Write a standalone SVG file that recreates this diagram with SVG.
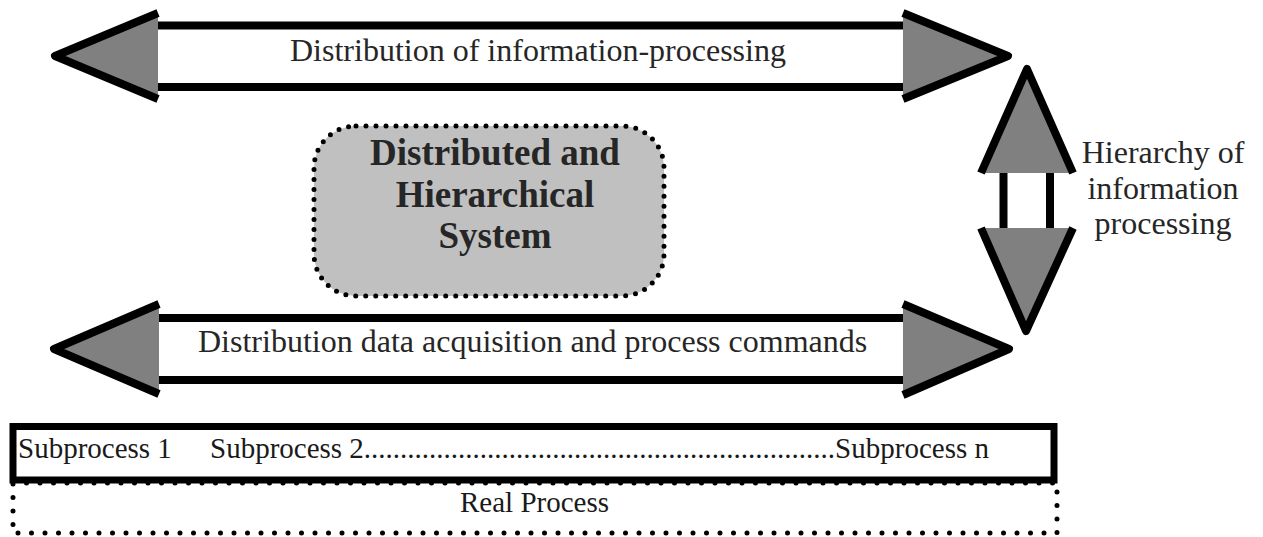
<svg xmlns="http://www.w3.org/2000/svg" width="1263" height="537" viewBox="0 0 1263 537">
<style>
.head{fill:#808080;stroke:#000;stroke-width:8;stroke-linejoin:round;stroke-linecap:butt}
.shaft{stroke:#000;stroke-width:8;fill:none}
.t{font-family:"Liberation Serif","Times New Roman",serif;font-size:32px;fill:#262626}
.tb{font-family:"Liberation Serif","Times New Roman",serif;font-size:37px;font-weight:bold;fill:#262626;text-anchor:middle}
.ts{font-family:"Liberation Serif","Times New Roman",serif;font-size:29px;fill:#1a1a1a}
.dot{stroke:#000;stroke-linecap:round}
</style>
<rect width="1263" height="537" fill="#fff"/>
<g id="connectors">
  <g id="arrow-top">
    <line class="shaft" x1="156" y1="25.5" x2="905" y2="25.5"/>
    <line class="shaft" x1="156" y1="87" x2="905" y2="87"/>
    <polyline class="head" points="158,13 55,56 158,99"/>
    <polyline class="head" points="903,13 1008,56 903,99"/>
    <text class="t" x="290" y="61">Distribution of information-processing</text>
  </g>
  <g id="arrow-bottom">
    <line class="shaft" x1="157" y1="318" x2="905" y2="318"/>
    <line class="shaft" x1="157" y1="380" x2="905" y2="380"/>
    <polyline class="head" points="159,304 54,349 159,394"/>
    <polyline class="head" points="903,304 1009,349 903,395"/>
    <text class="t" x="198" y="352">Distribution data acquisition and process commands</text>
  </g>
  <g id="arrow-vertical">
    <line class="shaft" x1="1003.5" y1="171" x2="1003.5" y2="230"/>
    <line class="shaft" x1="1050" y1="171" x2="1050" y2="230"/>
    <polyline class="head" points="981,173 1027,69 1073,173"/>
    <polyline class="head" points="981,228 1026,331 1073,228"/>
    <text class="t" text-anchor="middle" x="1163" y="163">Hierarchy of</text>
    <text class="t" text-anchor="middle" x="1163" y="199">information</text>
    <text class="t" text-anchor="middle" x="1163" y="234">processing</text>
  </g>
</g>
<g id="system">
  <rect class="dot" x="314" y="126" width="350" height="170" rx="42" ry="42" fill="#c0c0c0" stroke-width="5" stroke-dasharray="0 10"/>
  <text class="tb" x="495" y="165">Distributed and</text>
  <text class="tb" x="495" y="207">Hierarchical</text>
  <text class="tb" x="495" y="248">System</text>
</g>
<g id="real-process">
  <rect class="dot" x="13" y="483" width="1044" height="50" fill="none" stroke-width="5" stroke-dasharray="0 13.5"/>
  <text class="ts" x="460" y="512">Real Process</text>
</g>
<g id="subprocesses">
  <rect x="13" y="426.5" width="1041" height="53.5" fill="#fff" stroke="#000" stroke-width="7"/>
  <text class="ts" x="18" y="458">Subprocess 1</text>
  <text class="ts" x="210" y="458">Subprocess 2.................................................................Subprocess n</text>
</g>
</svg>
